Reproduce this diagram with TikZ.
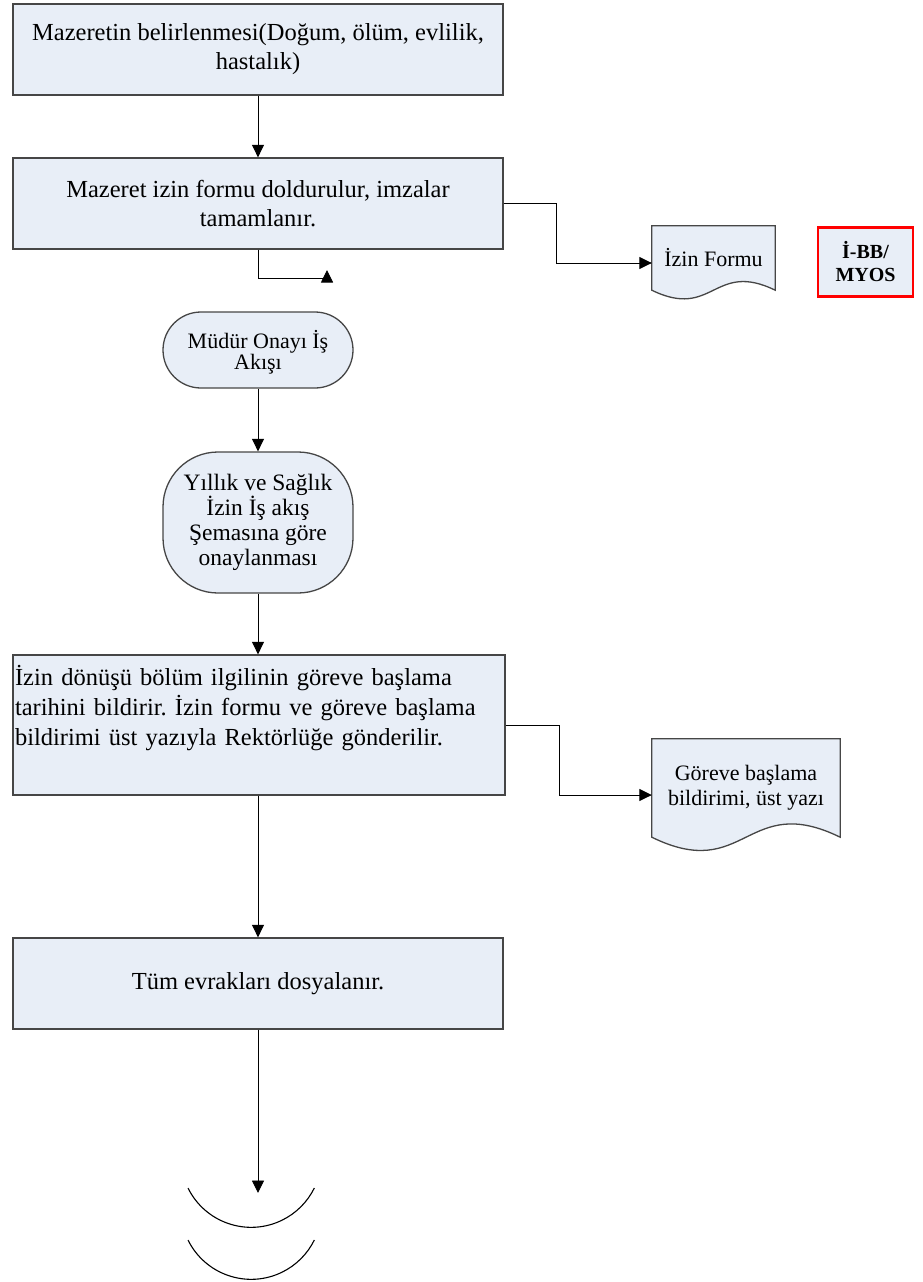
\documentclass[tikz,border=0pt]{standalone}
\usepackage{fontspec}
\setmainfont{Liberation Serif}
\usetikzlibrary{arrows.meta,backgrounds,positioning}
\definecolor{boxfill}{RGB}{232,238,247}
\definecolor{edgegray}{RGB}{70,70,70}
\frenchspacing

\tikzset{
  procbox/.style={draw=edgegray, line width=1.3pt, fill=boxfill, minimum width=490pt, minimum height=91pt, align=center, inner sep=1pt, font=\fontsize{24.5}{29}\selectfont},
  roundbox/.style={draw=edgegray, line width=1.3pt, fill=boxfill, minimum width=190pt, align=center, inner sep=1pt},
  docbox/.style={minimum width=#1, align=center, inner sep=1pt, font=\fontsize{22}{25}\selectfont},
  docline/.style={draw=edgegray, line width=1.3pt, fill=boxfill},
  codebox/.style={draw=red, line width=2.6pt, fill=boxfill, minimum width=95pt, minimum height=69pt, align=center, inner sep=1pt, font=\bfseries\fontsize{20}{23}\selectfont},
  arr/.style={-{Triangle[length=12.5pt,width=12pt]}, line width=0.9pt},
  endarc/.style={line width=1.1pt}
}

% document outline: node name, width, wave depth
\newcommand{\docshape}[3]{%
  \draw[docline] (#1.north west) -- (#1.north east) -- (#1.south east)
    .. controls +(-#2/2,-#3) and +(#2/2,#3) .. (#1.south west) -- cycle;}

\begin{document}
\begin{tikzpicture}[x=1pt,y=-1pt]
\useasboundingbox (0,0) rectangle (922,1282);

% main flow
\node[procbox] (mazeret) at (258,49.5) {Mazeretin belirlenmesi(Doğum, ölüm, evlilik,\\ hastalık)};
\node[procbox] (formdoldur) at (258,203.5) {Mazeret izin formu doldurulur, imzalar\\ tamamlanır.};
\node[roundbox, rounded corners=38pt, minimum height=76pt, font=\fontsize{22}{21}\selectfont] (mudur) at (258,350) {\rule{0pt}{23pt}Müdür Onayı İş\\ Akışı};
\node[roundbox, rounded corners=55pt, minimum height=141pt, font=\fontsize{23.5}{25}\selectfont] (yillik) at (258,522.5) {Yıllık ve Sağlık\\ İzin İş akış\\ Şemasına göre\\ onaylanması};
\node[procbox, minimum width=492pt, minimum height=140pt, text width=488pt, align=left, font=\fontsize{24.5}{30}\selectfont] (donus) at (259,725)
  {İzin dönüşü bölüm ilgilinin göreve başlama\\ tarihini bildirir. İzin formu ve göreve başlama\\ bildirimi üst yazıyla Rektörlüğe gönderilir.\\ \strut};
\node[procbox] (dosya) at (258,983.5) {Tüm evrakları dosyalanır.};

% documents and code
\node[docbox=123pt, minimum height=64pt] (izinformu) at (713.5,258) {İzin Formu};
\node[docbox=188pt, minimum height=98pt] (goreve) at (746,788) {Göreve başlama\\ bildirimi, üst yazı};
\node[codebox] (kod) at (865.5,262) {İ-BB/\\ MYOS};
\begin{scope}[on background layer]
  \docshape{izinformu}{123}{30}
  \docshape{goreve}{188}{46}
\end{scope}

\coordinate (donen) at (327,270);
\coordinate (bitis) at (258,1193);

% connectors
\draw[arr] (mazeret) -- (formdoldur);
\draw[arr] (formdoldur.south) |- ([yshift=-8pt]donen) -- (donen);
\draw[arr] (formdoldur.east) -- ++(53,0) |- ([yshift=-5pt]izinformu.west);
\draw[arr] (mudur) -- (yillik);
\draw[arr] (yillik.south) -- (donus.north -| yillik.south);
\draw[arr] (donus.east) -- ++(54,0) |- ([yshift=-7pt]goreve.west);
\draw[arr] (donus.south -| dosya.north) -- (dosya.north);
\draw[arr] (dosya.south) -- (bitis);

% end marks
\draw[endarc] (188,1188) arc[start angle=153.8, end angle=26.2, radius=70.4];
\draw[endarc] (188,1240) arc[start angle=153.8, end angle=26.2, radius=70.4];
\end{tikzpicture}
\end{document}
